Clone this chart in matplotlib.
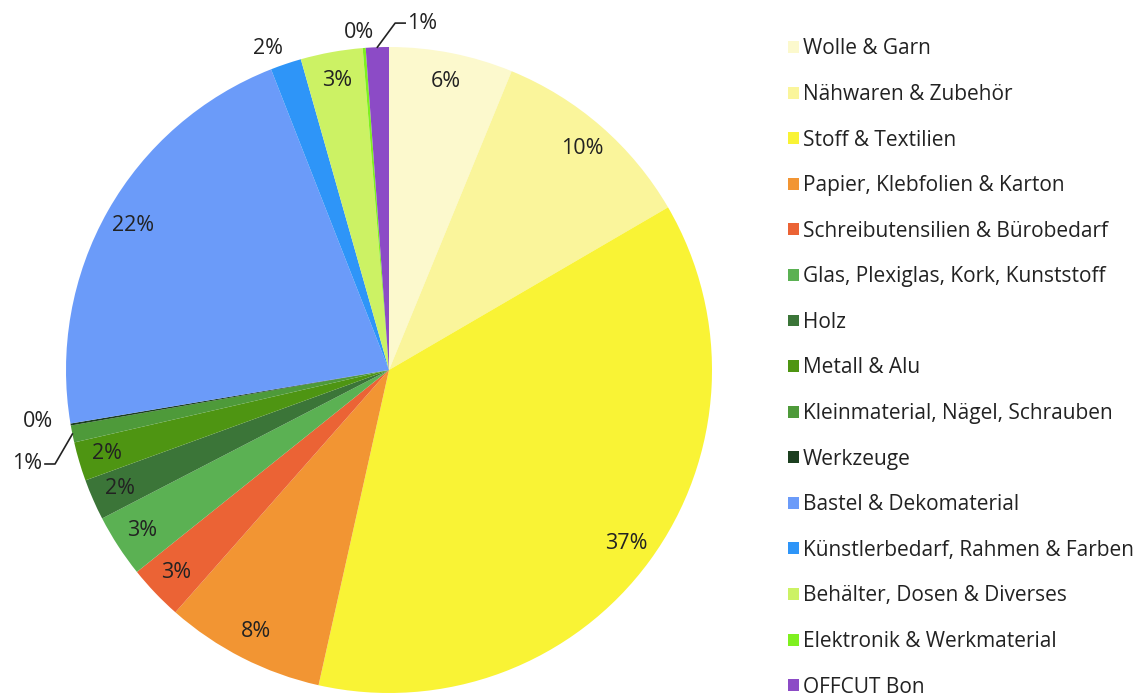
import numpy as np
import matplotlib
matplotlib.use("Agg")
import matplotlib.pyplot as plt

plt.rcParams['font.family'] = ['Open Sans', 'DejaVu Sans']

categories = [
    "Wolle & Garn", "Nähwaren & Zubehör", "Stoff & Textilien",
    "Papier, Klebfolien & Karton", "Schreibutensilien & Bürobedarf",
    "Glas, Plexiglas, Kork, Kunststoff", "Holz", "Metall & Alu",
    "Kleinmaterial, Nägel, Schrauben", "Werkzeuge", "Bastel & Dekomaterial",
    "Künstlerbedarf, Rahmen & Farben", "Behälter, Dosen & Diverses",
    "Elektronik & Werkmaterial", "OFFCUT Bon",
]
shares = [6.2, 10.4, 36.9, 8.0, 2.75, 3.15, 2.05, 1.95, 0.85, 0.1, 21.7,
          1.55, 3.1, 0.15, 1.15]
colors = ['#FCF9CD', '#FAF59B', '#F9F335', '#F29533', '#EB6335', '#5BB153',
          '#3B7538', '#4E9512', '#4E9A3A', '#1C3F1F', '#6B9BF9', '#2E95F8',
          '#CCF264', '#7FF01F', '#8C4BC6']

W, H = 1146, 695
fig = plt.figure(figsize=(W / 100, H / 100), dpi=100)
cx, cy, r = 389, 370, 323
ax = fig.add_axes([(cx - r) / W, (H - cy - r) / H, 2 * r / W, 2 * r / H])

wedges, _ = ax.pie(shares, colors=colors, startangle=90, counterclock=False,
                   radius=1.0, wedgeprops=dict(linewidth=0))
ax.set_xlim(-1.0, 1.0)
ax.set_ylim(-1.0, 1.0)
ax.set_aspect('equal')
ax.axis('off')

total = sum(shares)
txtcol = '#222222'
fs = 15.5
lfs = 15
for i, (w, v) in enumerate(zip(wedges, shares)):
    pct = f"{round(v / total * 100):d}%"
    mid = np.deg2rad((w.theta1 + w.theta2) / 2)
    name = categories[i]
    if name == "Werkzeuge":
        a = mid - np.deg2rad(1.3)
        ax.text(1.097 * np.cos(a), 1.097 * np.sin(a), pct, ha='center', va='center',
                fontsize=fs, color=txtcol, clip_on=False)
    elif name == "Kleinmaterial, Nägel, Schrauben":
        x0, y0 = np.cos(mid), np.sin(mid)
        ax.plot([x0, -1.034, -1.065], [y0, -0.291, -0.291], color='#222222',
                lw=1.2, clip_on=False)
        ax.text(-1.075, -0.291, pct, ha='right', va='center', fontsize=fs,
                color=txtcol, clip_on=False)
    elif name == "Elektronik & Werkmaterial":
        a = mid + np.deg2rad(0.7)
        ax.text(1.05 * np.cos(a), 1.05 * np.sin(a), pct, ha='center', va='center',
                fontsize=fs, color=txtcol, clip_on=False)
    elif name == "OFFCUT Bon":
        x0, y0 = np.cos(mid), np.sin(mid)
        ax.plot([x0, 0.019, 0.05], [y0, 1.074, 1.074], color='#222222',
                lw=1.2, clip_on=False)
        ax.text(0.055, 1.074, pct, ha='left', va='center', fontsize=fs,
                color=txtcol, clip_on=False)
    elif name == "Künstlerbedarf, Rahmen & Farben":
        a = mid + np.deg2rad(2.0)
        ax.text(1.065 * np.cos(a), 1.065 * np.sin(a), pct, ha='center', va='center',
                fontsize=fs, color=txtcol, clip_on=False)
    else:
        ax.text(0.91 * np.cos(mid), 0.91 * np.sin(mid), pct, ha='center',
                va='center', fontsize=fs, color=txtcol)

leg = fig.legend(wedges, categories, loc='upper left',
                 bbox_to_anchor=(778 / W, 1 - 28 / H), frameon=False,
                 fontsize=lfs, handlelength=0.5, handleheight=0.5,
                 handletextpad=0.2, labelspacing=1.18, borderpad=0,
                 labelcolor=txtcol)

fig.savefig("out.png", dpi=100, facecolor='white')
